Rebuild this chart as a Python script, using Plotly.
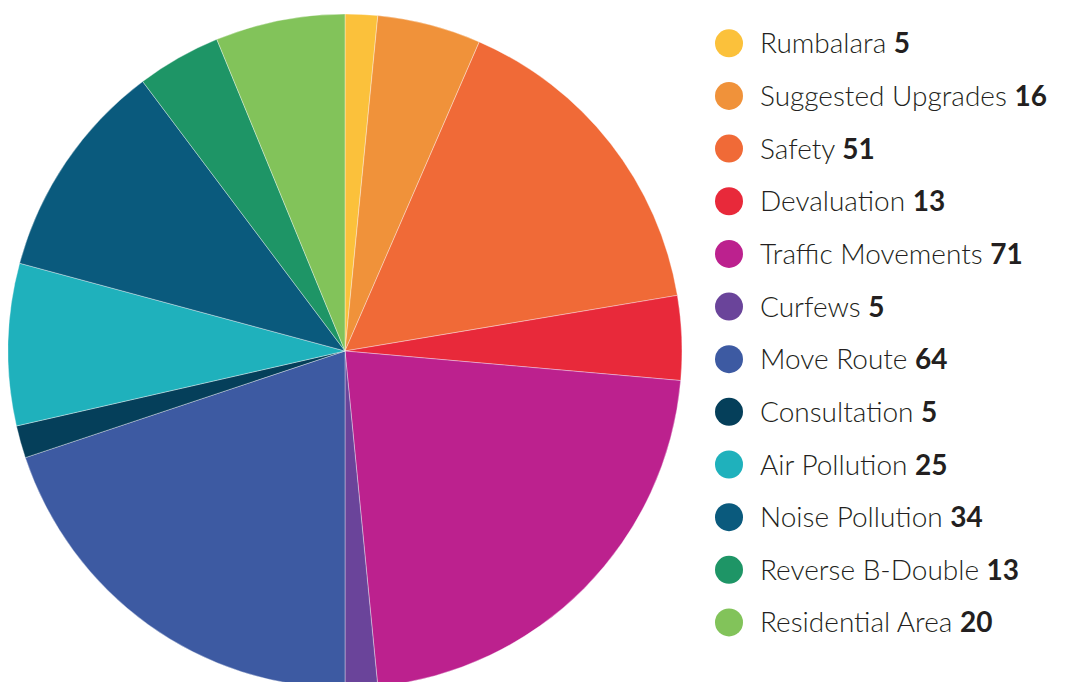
import plotly.graph_objects as go

categories = ["Rumbalara", "Suggested Upgrades", "Safety", "Devaluation",
              "Traffic Movements", "Curfews", "Move Route", "Consultation",
              "Air Pollution", "Noise Pollution", "Reverse B-Double", "Residential Area"]
values = [5, 16, 51, 13, 71, 5, 64, 5, 25, 34, 13, 20]
colors = ["#FBC13B", "#F0923A", "#F06A37", "#E8293A", "#BC218E", "#6A449A",
          "#3D5AA2", "#053F5A", "#1FB1BC", "#0A5A7D", "#1E9566", "#82C35A"]

W, H = 1071, 682
fig = go.Figure()

# Pie placement in div pixels (page has an 8px body margin)
cx, cy, r = 337, 343, 337
fig.add_trace(go.Pie(
    labels=categories, values=values, sort=False, direction="clockwise",
    rotation=0, textinfo="none", hoverinfo="label+value",
    marker=dict(colors=colors, line=dict(color="rgba(255,255,255,0.6)", width=0.6)),
    domain=dict(x=[(cx - r) / W, (cx + r) / W],
                y=[max(0, (H - cy - r) / H), min(1, (H - cy + r) / H)]),
    showlegend=False,
))

# Custom legend with large circles
row0, gap = 35.3, 52.65
ys = [row0 + gap * i for i in range(len(categories))]
labels = [f"{c} <b>{v}</b>" for c, v in zip(categories, values)]
fig.add_trace(go.Scatter(
    x=[721] * len(categories), y=ys, mode="markers",
    marker=dict(size=28, color=colors, line=dict(width=0)),
    hoverinfo="skip", showlegend=False,
))
fig.add_trace(go.Scatter(
    x=[752] * len(categories), y=[v + 3 for v in ys], mode="text", text=labels,
    textposition="middle right",
    textfont=dict(family="Lato", size=28, color="#231F20", weight=300),
    hoverinfo="skip", showlegend=False,
))

fig.update_layout(
    width=W, height=H, margin=dict(l=0, r=0, t=0, b=0),
    paper_bgcolor="white", plot_bgcolor="rgba(0,0,0,0)",
    xaxis=dict(range=[0, W], visible=False, fixedrange=True),
    yaxis=dict(range=[H, 0], visible=False, fixedrange=True),
)
fig.write_html("out.html")
